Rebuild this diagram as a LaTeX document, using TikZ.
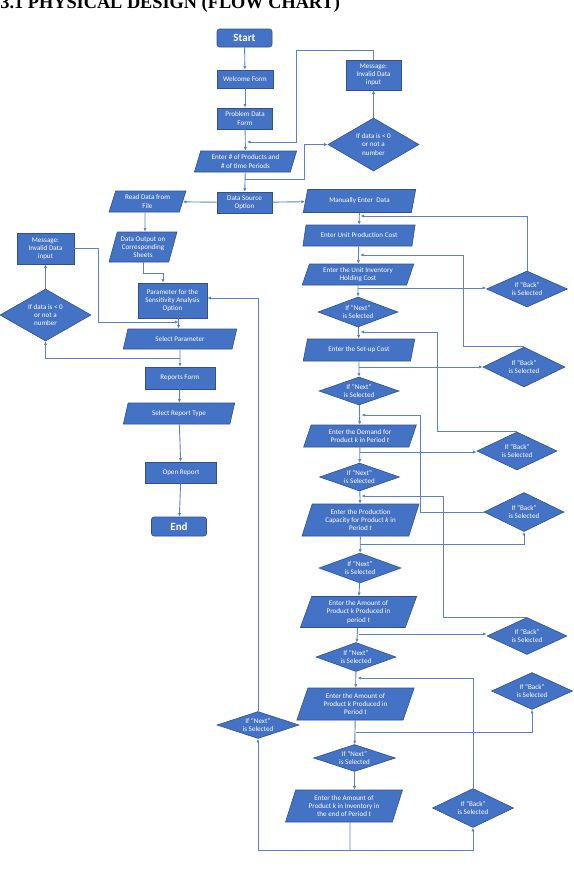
\documentclass[tikz,border=0pt]{standalone}
\usepackage{fontspec}
\setmainfont{Carlito}
\newfontfamily\headfont{Liberation Serif}
\usetikzlibrary{arrows.meta,shapes.geometric}

\definecolor{boxblue}{HTML}{4472C4}
\definecolor{edgeblue}{HTML}{2F528F}
\definecolor{lineblue}{HTML}{5A82CA}

\begin{document}
\begin{tikzpicture}[x=1pt, y=-1pt, >={Latex[length=3.6pt,width=3.2pt]}]

\tikzset{
  block/.style={
    rectangle, draw=edgeblue, fill=boxblue, line width=0.6pt,
    text=white, align=center, inner sep=1pt,
    font=\fontsize{7.1}{8.2}\selectfont
  },
  term/.style={
    block, rounded corners=2.5pt,
    font=\bfseries\fontsize{11}{12}\selectfont
  },
  io/.style={
    trapezium, trapezium left angle=72, trapezium right angle=108,
    trapezium stretches=true,
    draw=edgeblue, fill=boxblue, line width=0.6pt,
    text=white, align=center, inner sep=1pt,
    font=\fontsize{7.1}{8.2}\selectfont
  },
  decision/.style={
    diamond, aspect=2.6, draw=edgeblue, fill=boxblue, line width=0.6pt,
    text=white, align=center, inner sep=0pt,
    font=\fontsize{7.1}{8.2}\selectfont
  },
  arrow/.style={->, draw=lineblue, line width=0.9pt},
  link/.style={draw=lineblue, line width=0.9pt}
}

\useasboundingbox (0,0) rectangle (573,870);
\fill[white] (0,0) rectangle (573,870);

\node[anchor=base west, inner sep=0pt,
      font=\headfont\bfseries\fontsize{18.3}{20}\selectfont] (title)
  at (-13.5,9) {3.3.1 PHYSICAL DESIGN (FLOW CHART)};

% ==========================
% Entry and data source
% ==========================
\node[term, minimum width=55pt, minimum height=18pt] (start) at (244.5,38) {Start};
\node[block, minimum width=56pt, minimum height=18pt] (welcome) at (245,79) {Welcome Form};
\node[block, minimum width=55pt, minimum height=21pt] (problem) at (245,118.5) {Problem Data\\Form};
\node[io, minimum width=103pt, minimum height=21pt] (products) at (245.5,161.5) {Enter \# of Products and\\\# of time Periods};
\node[block, minimum width=55pt, minimum height=21pt] (source) at (244.5,202.5) {Data Source\\Option};

\node[block, minimum width=55pt, minimum height=30pt] (msgtop) at (373.5,75) {Message:\\Invalid Data\\input};
\node[decision, aspect=1.7, minimum width=91pt, minimum height=53pt] (checktop) at (373.5,144.5) {If data is < 0\\or not a\\number};

% ==========================
% Read from file / reports
% ==========================
\node[io, minimum width=77pt, minimum height=21pt] (readfile) at (147.5,201.5) {Read Data from\\File};
\node[io, minimum width=68pt, minimum height=30pt] (dataout) at (143,247) {Data Output on\\Corresponding\\Sheets};
\node[block, minimum width=69pt, minimum height=35pt] (param) at (172.5,300.5) {Parameter for the\\Sensitivity Analysis\\Option};
\node[io, minimum width=114pt, minimum height=20pt] (selparam) at (180,339) {Select Parameter};

\node[block, minimum width=57pt, minimum height=31pt] (msgleft) at (45.5,248.5) {Message:\\Invalid Data\\input};
\node[decision, aspect=1.7, minimum width=91pt, minimum height=52pt] (checkleft) at (45.5,315) {If data is < 0\\or not a\\number};

\node[block, minimum width=70pt, minimum height=22pt] (reports) at (180,378) {Reports Form};
\node[io, minimum width=112pt, minimum height=21pt] (seltype) at (179,413.5) {Select Report Type};
\node[block, minimum width=71pt, minimum height=21pt] (openrep) at (181,472.5) {Open Report};
\node[term, minimum width=55pt, minimum height=19pt] (end) at (179,526.5) {End};

% ==========================
% Manual data entry column
% ==========================
\node[io, minimum width=113pt, minimum height=23pt] (manual) at (359.5,201) {Manually Enter\ \ Data};
\node[io, minimum width=113pt, minimum height=21pt] (unitprod) at (359,235.5) {Enter Unit Production Cost};
\node[io, minimum width=112pt, minimum height=21pt] (unitinv) at (358,274.5) {Enter the Unit Inventory\\Holding Cost};
\node[decision, minimum width=80pt, minimum height=30pt] (next1) at (358,312) {If “Next”\\is Selected};
\node[io, minimum width=112pt, minimum height=22pt] (setup) at (359,350) {Enter the Set-up Cost};
\node[decision, minimum width=80pt, minimum height=28pt] (next2) at (359,391) {If “Next”\\is Selected};
\node[io, minimum width=113pt, minimum height=22pt] (demand) at (360,436) {Enter the Demand for\\Product \textit{k} in Period \textit{t}};
\node[decision, minimum width=80pt, minimum height=28pt] (next3) at (359.5,477) {If “Next”\\is Selected};
\node[io, minimum width=117pt, minimum height=32pt] (capacity) at (360.5,520) {Enter the Production\\Capacity for Product \textit{k} in\\Period \textit{t}};
\node[decision, minimum width=82pt, minimum height=30pt] (next4) at (360,568) {If “Next”\\is Selected};
\node[io, minimum width=117pt, minimum height=31pt] (produced) at (358.5,612) {Enter the Amount of\\Product \textit{k} Produced in\\period \textit{t}};
\node[decision, minimum width=80pt, minimum height=29pt] (next5) at (356,657) {If “Next”\\is Selected};
\node[io, minimum width=118pt, minimum height=32pt] (producedb) at (355.5,704) {Enter the Amount of\\Product \textit{k} Produced in\\Period \textit{t}};
\node[decision, minimum width=82pt, minimum height=27pt] (next6) at (354.5,758) {If “Next”\\is Selected};
\node[io, minimum width=118pt, minimum height=32pt] (inventory) at (344,806) {Enter the Amount of\\Product \textit{k} in Inventory in\\the end of Period \textit{t}};

\node[decision, minimum width=82pt, minimum height=27pt] (nextleft) at (258,725) {If “Next”\\is Selected};

% "Back" checks
\node[decision, minimum width=81pt, minimum height=36pt] (back1) at (527,289) {If “Back”\\is Selected};
\node[decision, minimum width=82pt, minimum height=40pt] (back2) at (524,367) {If “Back”\\is Selected};
\node[decision, minimum width=80pt, minimum height=38pt] (back3) at (517,451) {If “Back”\\is Selected};
\node[decision, minimum width=80pt, minimum height=39pt] (back4) at (524,512) {If “Back”\\is Selected};
\node[decision, minimum width=80pt, minimum height=37pt] (back5) at (527,636) {If “Back”\\is Selected};
\node[decision, minimum width=81pt, minimum height=37pt] (back6) at (532,691) {If “Back”\\is Selected};
\node[decision, minimum width=81pt, minimum height=39pt] (back7) at (473,808) {If “Back”\\is Selected};

% joints on the main lines
\coordinate (toCheck) at (245,179);
\coordinate (retTop) at (247,142);
\coordinate (retParam) at (178.5,322);
\coordinate (toCheckLeft) at (180,358);
\coordinate (in3) at (360.5,216);
\coordinate (in4) at (360,255);
\coordinate (in5) at (360.5,332);
\coordinate (in6) at (361.5,415);
\coordinate (in7) at (361.5,496);
\coordinate (in8) at (357.5,678);
\coordinate (br3) at (358,288);
\coordinate (br4) at (359,367);
\coordinate (br5) at (360,452);
\coordinate (br6) at (360,544);
\coordinate (br7) at (358.5,634);
\coordinate (br8) at (355.5,732);
\coordinate (bus) at (350,850);

% ==========================
% Connectors
% ==========================
\draw[arrow] (start) -- (welcome);
\draw[arrow] (welcome) -- (problem);
\draw[arrow] (problem) -- (products);
\draw[arrow] (products) -- (source);
\draw[arrow] (toCheck) -- ++(59,0) |- (checktop.west);
\draw[arrow] (checktop) -- (msgtop);
\draw[arrow] (msgtop.north) |- (296,50) |- (retTop);

\draw[arrow] (source) -- (readfile);
\draw[arrow] (source) -- (manual);
\draw[arrow] ([xshift=-2.5pt]readfile.south) -- ([xshift=2pt]dataout.north);
\draw[arrow] (dataout.south) -- ++(0,11) -| ([xshift=-9.5pt]param.north);
\draw[arrow] ([xshift=6pt]param.south) -- ([xshift=-1.5pt]selparam.north);
\draw[arrow] (msgleft.east) -- ++(24,0) |- (retParam);
\draw[arrow] (checkleft) -- (msgleft);
\draw[arrow] (selparam) -- (reports);
\draw[arrow] (toCheckLeft) -| (checkleft.south);
\draw[arrow] (reports) -- (seltype);
\draw[arrow] (seltype) -- (openrep);
\draw[arrow] (openrep) -- (end);
\draw[arrow] (nextleft.north) |- ([yshift=2.5pt]param.east);

\draw[arrow] (manual) -- (unitprod);
\draw[arrow] (unitprod) -- (unitinv);
\draw[arrow] (unitinv) -- (next1);
\draw[arrow] (next1) -- (setup);
\draw[arrow] (setup) -- (next2);
\draw[arrow] (next2) -- (demand);
\draw[arrow] (demand) -- (next3);
\draw[arrow] (next3) -- (capacity);
\draw[arrow] (capacity) -- (next4);
\draw[arrow] (next4) -- (produced);
\draw[arrow] (produced) -- (next5);
\draw[arrow] (next5) -- (producedb);
\draw[arrow] (producedb) -- (next6);
\draw[arrow] (next6.south) -- (next6.south |- inventory.north);

% forward to the "Back" checks
\draw[arrow] (br3) -- (br3 -| back1.west);
\draw[arrow] (br4) -- (br4 -| back2.west);
\draw[arrow] (br5) -- (br5 -| back3.west);
\draw[arrow] (br6) -| (back4.south);
\draw[arrow] (br7) -- (br7 -| back5.west);
\draw[arrow] (br8) -| (back6.south);

% back to the previous form
\draw[arrow] (back1.north) |- (in3);
\draw[arrow] (back2.north) -| (463,255) -- (in4);
\draw[arrow] (back3.north) -| (437,332) -- (in5);
\draw[arrow] (back4.west) -| (420,415) -- (in6);
\draw[arrow] (back5.north) -| (443,496) -- (in7);
\draw[arrow] (back7.north) |- (in8);

\draw[link] ([xshift=6pt]inventory.south) -- (bus);
\draw[arrow] (bus) -| (nextleft.south);
\draw[arrow] (bus) -| (back7.south);

\end{tikzpicture}
\end{document}
